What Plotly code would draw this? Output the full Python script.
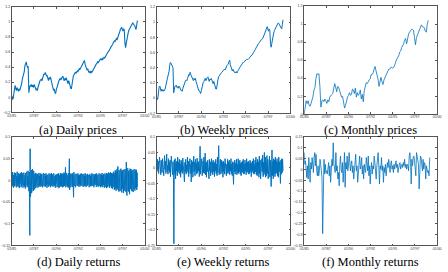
import pandas as pd
import plotly.graph_objects as go

# ---------------- data ----------------
PRICE_UNIT = 0.01     # price lists are in hundredths
RETURN_UNIT = 0.001   # return lists are in thousandths

tick_dates = ["1985-01-01", "1987-07-01", "1990-01-01", "1992-07-01",
              "1995-01-01", "1997-07-01", "2000-01-01"]
tick_labels = ["01/85", "07/87", "01/90", "07/92", "01/95", "07/97", "01/00"]

daily_prices = [
    2, -3, -1, 8, 14, 16, 12, 9, 13, 10, 8, 11, 9, 12, 14, 18, 24, 27, 30, 34,
    42, 46, 47, 42, 40, 41, 6, 12, 16, 15, 17, 14, 16, 13, 17, 15, 12, 10, 11, 9,
    13, 15, 19, 22, 23, 24, 22, 26, 28, 31, 30, 33, 31, 28, 29, 25, 22, 26, 24, 27,
    22, 18, 16, 12, 9, 11, 6, 5, 10, 14, 18, 20, 22, 24, 25, 23, 26, 27, 28, 24,
    22, 25, 23, 26, 24, 21, 18, 22, 17, 14, 12, 11, 20, 25, 28, 30, 31, 33, 32, 34,
    35, 34, 37, 38, 37, 39, 41, 42, 44, 45, 47, 49, 44, 40, 37, 36, 38, 35, 33, 34,
    32, 35, 33, 34, 36, 37, 40, 41, 42, 44, 45, 47, 46, 48, 49, 50, 51, 50, 51, 50,
    52, 53, 52, 54, 55, 57, 58, 60, 61, 62, 64, 66, 67, 69, 70, 72, 73, 75, 74, 77,
    78, 77, 79, 82, 85, 87, 90, 92, 93, 90, 88, 91, 89, 72, 66, 72, 79, 83, 86, 89,
    91, 93, 95, 97, 98, 99, 97, 96, 95, 92, 90, 96, 102]

weekly_prices = [
    1, -2, 0, 9, 15, 16, 11, 9, 12, 10, 9, 11, 10, 12, 15, 19, 24, 28, 31, 35,
    43, 47, 46, 43, 40, 40, 7, 12, 16, 16, 17, 14, 15, 13, 16, 15, 12, 10, 10, 9,
    13, 16, 19, 21, 23, 24, 23, 26, 29, 31, 30, 34, 31, 28, 28, 25, 23, 26, 24, 26,
    22, 19, 16, 12, 10, 10, 6, 6, 10, 15, 18, 21, 22, 24, 26, 23, 26, 27, 28, 25,
    22, 25, 24, 26, 24, 21, 19, 22, 17, 15, 12, 12, 20, 25, 28, 29, 31, 33, 33, 34,
    35, 35, 37, 38, 37, 40, 41, 43, 44, 45, 48, 50, 44, 40, 38, 36, 38, 35, 34, 34,
    33, 35, 33, 35, 36, 38, 40, 41, 43, 44, 45, 47, 47, 48, 49, 50, 51, 51, 51, 51,
    52, 53, 53, 54, 56, 57, 58, 60, 61, 63, 64, 66, 68, 69, 71, 72, 73, 75, 75, 77,
    78, 78, 80, 82, 85, 88, 90, 92, 94, 91, 88, 91, 89, 72, 67, 72, 79, 83, 86, 89,
    91, 94, 95, 97, 98, 99, 97, 96, 95, 92, 91, 97, 103]

monthly_prices = [
    0, 12, 15, 12, 15, 10, 9, 12, 15, 20, 27, 30, 40, 45, 44, 45, 30,
    8, 15, 16, 14, 17, 15, 12, 16, 14, 19, 21, 22, 23, 28, 34, 30, 25, 31, 30,
    26, 22, 19, 20, 14, 7, 10, 16, 19, 21, 24, 21, 22, 28, 27, 23, 29, 19, 24,
    21, 23, 27, 17, 22, 14, 26, 33, 35, 34, 37, 38, 39, 44, 44, 46, 50, 53, 48,
    44, 39, 31, 39, 41, 36, 33, 38, 41, 43, 47, 48, 50, 50, 52, 52, 51, 52, 55,
    59, 61, 63, 65, 69, 70, 74, 76, 78, 82, 84, 78, 86, 89, 91, 93, 94, 94, 93,
    85, 77, 85, 88, 91, 93, 96, 99, 97, 96, 96, 92, 91, 100, 104]

daily_returns = [
    16, -11, 19, -13, 8, -17, 12, -6, 18, -14, 7, -12, 17, -9, 13, -16, 11, -8, 20, -12,
    9, -15, 16, -7, 12, -18, 14, -8, 17, -11, 6, -16, 19, -13, 11, -9, 16, -17, 8, -12,
    18, -8, 13, -15, 12, -19, 17, -11, 14, -7, 20, -16, 9, -13, 22, -18, 16, -25, 19, -40,
    -127, 73, -38, 30, -26, 24, -29, 21, -22, 26, -20, 18, -24, 22, -16, 19, -21, 15, -18, 17,
    -12, 16, -13, 11, -17, 15, -10, 12, -16, 13, -8, 17, -12, 10, -15, 16, -11, 13, -14, 9,
    15, -12, 11, -16, 13, -10, 17, -13, 12, -8, 15, -15, 10, -12, 16, -11, 13, -17, 12, -10,
    13, -14, 11, -15, 16, -8, 12, -12, 15, -16, 10, -11, 17, -13, 12, -10, 14, -15, 11, -12,
    16, -11, 15, -13, 10, -17, 12, -8, 14, -12, 11, -16, 15, -10, 12, -14, 16, -18, 13, -11,
    12, -15, 17, -12, 11, -14, 15, -10, 16, -16, 12, -11, 14, -15, 18, -12, 15, -13, 11, 30,
    -16, 13, -12, 17, -11, 15, -14, 12, -17, 16, -15, 18, 50, -22, 16, -13, 12, -16, 15, -11,
    14, -12, 16, -15, 11, -18, -39, 19, -13, 12, -11, 15, -16, 10, -12, 14, -11, 15, -13, 12,
    -10, 16, -12, 11, -15, 13, -8, 12, -14, 15, -11, 10, -12, 16, -13, 11, -10, 14, -15, 12,
    -11, 15, -12, 10, -14, 16, -11, 12, -15, 11, -10, 14, -12, 15, -11, 10, -14, 12, -16, 13,
    -11, 15, -12, 10, -14, 12, -11, 16, -13, 11, -10, 15, -12, 13, -16, 12, -11, 14, -10, 15,
    -13, 11, -15, 16, -12, 10, -11, 13, -15, 12, -10, 16, -13, 11, -12, 15, -16, 13, -11, 12,
    -14, 17, -12, 11, -16, 13, -10, 15, -13, 12, -17, 16, -11, 13, -15, 12, -18, 17, -13, 15,
    -16, 13, -12, 18, -15, 11, -17, 16, -13, 19, -12, 15, -18, 17, -16, 13, -19, 16, -15, 20,
    -17, 18, -22, 16, -20, 23, -16, 19, -24, 21, -18, 26, -21, 22, 32, -23, 20, -26, 24, -19,
    22, -25, 18, -21, 27, -23, 20, -28, 24, -19, 23, -26, 21, -29, 25, -22, 19, -24, 26, -20,
    23, -27, 42, -22, -35, 25, -21, 28, -24, 20, -26, 23, -25, -32, 27, -22, 24, -20, 26, -23,
    21, -25, 22, -19, 24, -27, 20, -23, 26, -21, 19, -24, 22, -18, 25, -20, 23, -22, 18, -15]

weekly_returns = [
    15, -12, 28, -5, 22, -18, 10, 35, -8, 18, -22, 25, 5, -15, 30, -10, 20, -25, 12, 40,
    -5, 22, -18, 15, 45, -12, 8, -20, 30, -8, 18, -15, 25, -28, 12, 38, -10, 5, -22, 20,
    -30, -245, 25, -18, 30, -35, 15, -10, 22, -25, 35, -15, 18, -8, 28, -20, 12, -30, 25, -12,
    20, -18, 32, -10, 15, -25, -45, 18, -12, 28, -20, 10, -15, 35, -8, 22, -28, 15, -10, 30,
    -18, 12, -45, 25, -15, 20, -30, 10, 38, -12, 18, -25, 28, -8, 15, -20, 32, -15, 22, -10,
    18, -28, 12, 70, -20, 15, -12, 30, -25, 10, 22, -15, 35, -18, 12, 48, -22, 18, -30, 20,
    -12, 25, -18, 15, -35, 28, -10, 20, -25, 12, 30, -15, 18, -22, 25, -12, 15, -28, 20, -10,
    28, -18, 12, -25, 35, -15, 20, 72, -22, 15, -12, 28, -20, 10, 25, -15, 18, -30, 22, -12,
    15, -20, 30, -10, 18, -25, 12, -15, 28, -18, 20, -12, 25, -22, 15, -10, 30, -18, 12, -25,
    20, -15, -53, 18, -12, 25, -20, 15, -10, 28, -22, 12, -15, 30, -18, 20, -12, 25, -20, 15,
    -25, 18, -12, 22, -15, 28, -20, 12, -18, 25, -10, 15, -22, 30, -15, 18, -12, 22, -20, 15,
    -18, 25, -12, 20, -28, 15, -10, 22, -15, 30, -20, 12, -18, 25, -12, 35, -22, 18, -25, 28,
    -15, 20, -30, 38, -18, 25, -35, 15, -20, 30, -12, 42, -28, 18, -22, 50, -15, 35, -30, 20,
    -25, 40, -18, 28, -35, 22, -20, 38, -30, 25, -15, -60, 30, 58, -25, 20, -35, 30, -18, 25,
    -28, 35, -20, 22, -15, 30, -25, 18, -30, 35, -12, 20, -38, -50, 25, -20, 30, -15, 28, -10]

monthly_returns = [
    78, 24, 40, -14, -37, 17, -44, 55, -21, -59, 32, 2, 55, 24, -14, 55, 78, 17, 70, -6,
    -29, 17, -29, -6, 47, 24, 2, -37, -296, -59, 47, -21, 24, -14, -6, -21, 2, 32, -29, 17,
    -59, 17, 47, 17, 123, 24, -6, -14, 78, -6, 17, -44, -14, -75, 24, 62, 2, -14, 32, -59,
    2, 78, -82, 32, 2, 62, -6, 17, 78, 9, -6, 24, 40, -14, 17, -44, 2, 47, 70, -6,
    17, -59, 9, 24, 62, 2, 17, 55, -21, 17, -44, 24, 2, -14, 55, 17, -6, 62, -29, 17,
    -67, 2, 32, -21, 17, 2, 62, 32, -6, -44, 17, 47, 78, 9, -67, 17, 2, 55, -6, 17,
    -59, 9, -14, 24, -29, 2, 32, 9, 47, 17, -14, 24, 40, 2, 17, -14, 24, 2, 17, 40,
    9, 24, -14, 17, 24, 32, 2, 17, 24, 9, 32, 17, 47, 9, 24, 2, 24, 17, -6, 62,
    78, 32, -67, 47, 17, 55, 62, 40, 17, -29, 78, 62, 32, 24, -90, 2, 62, 55, 24, -6,
    47, 2, 32, 24, -44, 17, 2, -14, -6, -29, 55]

# ---------------- figure ----------------
BLUE = "#0072BD"
FRAME = "#555555"
TICK_FONT = dict(family="Liberation Sans, Arial, sans-serif", size=3.6, color="#333333")
CAP_FONT = dict(family="Liberation Serif, Times New Roman, serif", size=12.5, color="#000000")

W, H = 448, 272


def dates(n, end):
    return pd.date_range("1985-01-01", end, periods=n)


panels = [
    # values, unit, end date, y range, dtick, x px, y px (top, bottom), caption, line width
    (daily_prices, PRICE_UNIT, "1999-03-01", [-0.2, 1.2], 0.2, (7, 143), (5, 112), "(a) Daily prices", 1.1),
    (weekly_prices, PRICE_UNIT, "1999-03-01", [-0.2, 1.2], 0.2, (155, 292), (5, 113), "(b) Weekly prices", 1.0),
    (monthly_prices, PRICE_UNIT, "1999-01-01", [0, 1.2], 0.2, (306, 442), (4, 114), "(c) Monthly prices", 0.8),
    (daily_returns, RETURN_UNIT, "1999-03-01", [-0.15, 0.1], 0.05, (7, 143), (137, 247), "(d) Daily returns", 1.0),
    (weekly_returns, RETURN_UNIT, "1999-03-01", [-0.25, 0.1], 0.05, (155, 292), (137, 247), "(e) Weekly returns", 1.0),
    (monthly_returns, RETURN_UNIT, "1999-03-01", [-0.35, 0.15], 0.05, (306, 442), (137, 247), "(f) Monthly returns", 0.8),
]
caption_y = {5: 130, 4: 130, 137: 264}

fig = go.Figure()
layout = dict(
    width=W, height=H, margin=dict(l=0, r=0, t=0, b=0),
    paper_bgcolor="white", plot_bgcolor="white", showlegend=False,
    annotations=[],
)

for k, (vals, unit, end, yr, dt, (x0, x1), (y0, y1), cap, lw) in enumerate(panels, start=1):
    sfx = "" if k == 1 else str(k)
    fig.add_trace(go.Scatter(
        x=dates(len(vals), end), y=[v * unit for v in vals],
        mode="lines", line=dict(color=BLUE, width=lw),
        xaxis="x" + sfx, yaxis="y" + sfx, hoverinfo="skip",
    ))
    layout["xaxis" + sfx] = dict(
        domain=[x0 / W, x1 / W], anchor="y" + sfx, type="date",
        range=["1985-01-01", "2000-01-01"],
        tickvals=tick_dates, ticktext=tick_labels,
        ticks="inside", ticklen=2, tickwidth=0.6, tickcolor=FRAME,
        showline=True, linecolor=FRAME, linewidth=0.7, mirror="ticks",
        showgrid=False, zeroline=False, tickfont=TICK_FONT,
        ticklabelstandoff=-1,
    )
    layout["yaxis" + sfx] = dict(
        domain=[1 - y1 / H, 1 - y0 / H], anchor="x" + sfx,
        range=yr, tick0=0, dtick=dt,
        ticks="inside", ticklen=2, tickwidth=0.6, tickcolor=FRAME,
        showline=True, linecolor=FRAME, linewidth=0.7, mirror="ticks",
        showgrid=False, zeroline=False, tickfont=TICK_FONT,
    )
    layout["annotations"].append(dict(
        text=cap, xref="paper", yref="paper",
        x=(x0 + x1) / 2 / W, y=1 - caption_y[y0] / H,
        xanchor="center", yanchor="middle", showarrow=False, font=CAP_FONT,
    ))

fig.update_layout(**layout)
fig.write_html("out.html")
